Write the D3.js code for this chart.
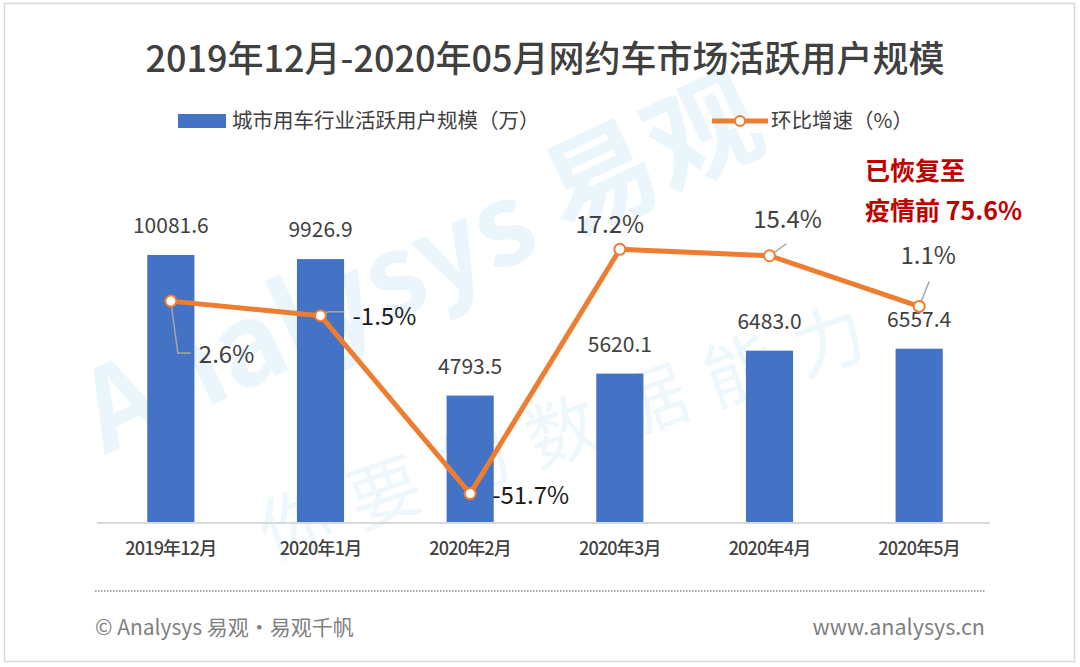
<!DOCTYPE html>
<html>
<head>
<meta charset="utf-8">
<script src="https://d3js.org/d3.v7.min.js"></script>
<title>网约车市场活跃用户规模</title>
<style>
  body { margin: 0; background: #fff; }
  svg text { font-family: "Noto Sans CJK SC", "Noto Sans", sans-serif; }
</style>
</head>
<body>
<div id="chart"></div>
<script>
// data
var months = ["2019年12月", "2020年1月", "2020年2月", "2020年3月", "2020年4月", "2020年5月"];
var users = [10081.6, 9926.9, 4793.5, 5620.1, 6483.0, 6557.4];
var growth = [2.6, -1.5, -51.7, 17.2, 15.4, 1.1];

var width = 1080, height = 667;
var baseY = 523, topY = 204;

var svg = d3.select("#chart").append("svg")
  .attr("width", width).attr("height", height);

// outer frame
svg.append("rect")
  .attr("x", 4.5).attr("y", 3.5).attr("width", 1070).attr("height", 658)
  .attr("fill", "#fff").attr("stroke", "#d9d9d9").attr("stroke-width", 1.5);

// faint watermark
var wm = svg.append("g").attr("pointer-events", "none");
wm.append("text")
  .attr("transform", "translate(105,455) rotate(-25)")
  .attr("font-size", 112).attr("font-weight", 700)
  .attr("fill", "#eaf5fc")
  .text("Analysys 易观");
wm.append("text")
  .attr("transform", "translate(270,560) rotate(-19)")
  .attr("font-size", 72)
  .attr("fill", "#eef7fc")
  .attr("letter-spacing", 22)
  .text("你要的数据能力");

// title
svg.append("text")
  .attr("x", 545).attr("y", 72)
  .attr("text-anchor", "middle")
  .attr("font-size", 36).attr("font-weight", 500)
  .attr("fill", "#404040")
  .text("2019年12月-2020年05月网约车市场活跃用户规模");

// scales
var x = d3.scaleBand().domain(months).range([96, 994]).padding(0);
var y = d3.scaleLinear().domain([0, 12000]).range([baseY, topY]);
var y2 = d3.scaleLinear().domain([-60, 30]).range([baseY, topY]);
var barW = x.bandwidth() * 0.315;
var cx = function(d) { return x(d) + x.bandwidth() / 2; };

// bars
svg.selectAll("rect.bar").data(months).enter().append("rect")
  .attr("class", "bar")
  .attr("x", function(d) { return cx(d) - barW / 2; })
  .attr("y", function(d, i) { return y(users[i]); })
  .attr("width", barW)
  .attr("height", function(d, i) { return baseY - y(users[i]); })
  .attr("fill", "#4472c4");

// x axis
var xAxis = svg.append("g")
  .attr("transform", "translate(0," + baseY + ")")
  .call(d3.axisBottom(x).tickSize(0).tickPadding(19));
xAxis.select(".domain").attr("stroke", "#d9d9d9").attr("stroke-width", 2)
  .attr("d", "M97,0H990");
xAxis.selectAll("text")
  .attr("font-family", "'Noto Sans CJK SC', sans-serif")
  .attr("font-size", 18).attr("font-weight", 500).attr("fill", "#404040")
  .attr("letter-spacing", -0.8);

// bar value labels
svg.selectAll("text.val").data(months).enter().append("text")
  .attr("class", "val")
  .attr("x", cx)
  .attr("y", function(d, i) { return y(users[i]) - 22; })
  .attr("text-anchor", "middle")
  .attr("font-size", 21).attr("fill", "#404040")
  .text(function(d, i) { return users[i].toFixed(1); });

// growth line
var line = d3.line()
  .x(function(d, i) { return cx(months[i]); })
  .y(function(d) { return y2(d); });
svg.append("path").datum(growth)
  .attr("d", line)
  .attr("fill", "none").attr("stroke", "#ed7d31")
  .attr("stroke-width", 5).attr("stroke-linejoin", "round");

// leader lines (offsets from point)
var leaders = [
  [[0, 0], [7, 52], [20, 52]],
  [[0, 0], [8, -4], [24, -4]],
  null,
  null,
  [[0, 0], [17, -12]],
  [[0, 0], [10, -25]]
];
leaders.forEach(function(l, i) {
  if (!l) return;
  var px = cx(months[i]), py = y2(growth[i]);
  svg.append("path")
    .attr("d", d3.line()(l.map(function(p) { return [px + p[0], py + p[1]]; })))
    .attr("fill", "none").attr("stroke", "#a6a6a6").attr("stroke-width", 1.5);
});

svg.selectAll("circle.pt").data(growth).enter().append("circle")
  .attr("class", "pt")
  .attr("cx", function(d, i) { return cx(months[i]); })
  .attr("cy", function(d) { return y2(d); })
  .attr("r", 5.5)
  .attr("fill", "#fff").attr("stroke", "#ed7d31").attr("stroke-width", 2);

// growth labels: [dx, dy, anchor, colour]
var gl = [
  [28, 62, "start", "#404040"],
  [32, 9, "start", "#1a1a1a"],
  [22, 10, "start", "#1a1a1a"],
  [-10, -16, "middle", "#404040"],
  [18, -28, "middle", "#404040"],
  [9, -42, "middle", "#404040"]
];
svg.selectAll("text.gr").data(growth).enter().append("text")
  .attr("class", "gr")
  .attr("x", function(d, i) { return cx(months[i]) + gl[i][0]; })
  .attr("y", function(d, i) { return y2(d) + gl[i][1]; })
  .attr("text-anchor", function(d, i) { return gl[i][2]; })
  .attr("fill", function(d, i) { return gl[i][3]; })
  .attr("font-size", 24)
  .text(function(d) { return d.toFixed(1) + "%"; });

// red annotation
var note = svg.append("text")
  .attr("x", 865).attr("y", 180)
  .attr("font-size", 25).attr("font-weight", 700).attr("fill", "#c00000");
note.append("tspan").attr("x", 865).text("已恢复至");
note.append("tspan").attr("x", 865).attr("dy", 40).text("疫情前 75.6%");

// legend
var lg = svg.append("g");
lg.append("rect").attr("x", 178).attr("y", 114).attr("width", 48).attr("height", 14)
  .attr("fill", "#4472c4");
lg.append("text").attr("x", 232).attr("y", 128)
  .attr("font-size", 20.5).attr("fill", "#404040")
  .text("城市用车行业活跃用户规模（万）");
lg.append("line").attr("x1", 712).attr("x2", 768).attr("y1", 121).attr("y2", 121)
  .attr("stroke", "#ed7d31").attr("stroke-width", 5);
lg.append("circle").attr("cx", 740).attr("cy", 121).attr("r", 5)
  .attr("fill", "#fff").attr("stroke", "#ed7d31").attr("stroke-width", 2);
lg.append("text").attr("x", 771).attr("y", 128)
  .attr("font-size", 20.5).attr("fill", "#404040")
  .text("环比增速（%）");

// footer
svg.append("line").attr("x1", 95).attr("x2", 985).attr("y1", 591).attr("y2", 591)
  .attr("stroke", "#a6a6a6").attr("stroke-width", 2).attr("stroke-dasharray", "1.5,1.5");
svg.append("text").attr("x", 95).attr("y", 635)
  .attr("font-size", 21).attr("fill", "#7f7f7f")
  .text("© Analysys 易观·易观千帆");
svg.append("text").attr("x", 985).attr("y", 635)
  .attr("text-anchor", "end")
  .attr("font-size", 21.5).attr("fill", "#7f7f7f")
  .text("www.analysys.cn");
</script>
</body>
</html>
